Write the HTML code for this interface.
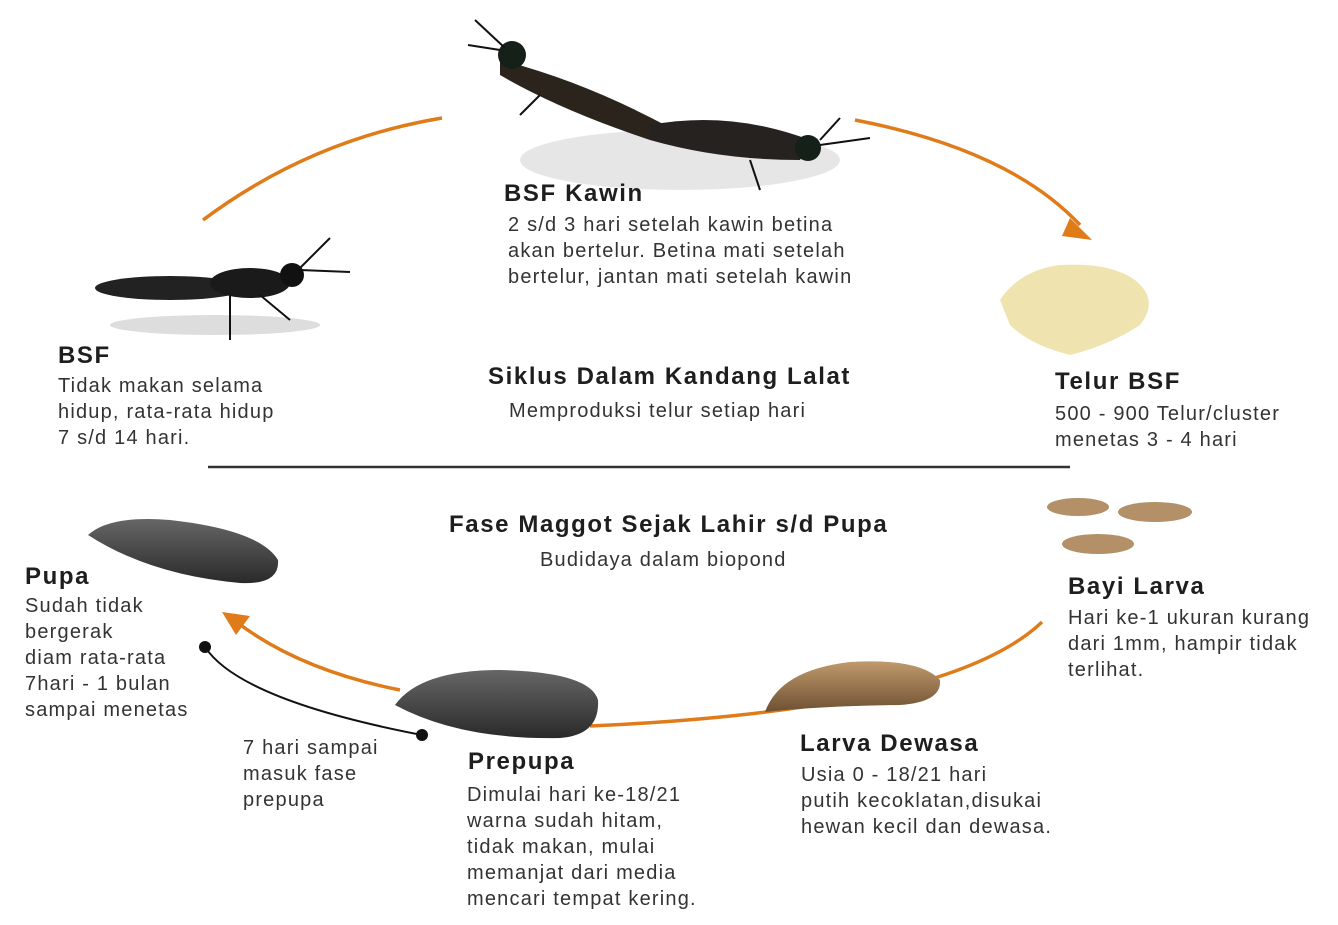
<!DOCTYPE html>
<html><head><meta charset="utf-8"><style>
body{margin:0;width:1338px;height:925px;background:#fff;position:relative;overflow:hidden;font-family:"Liberation Sans",sans-serif;color:#2a2a2a}
.t{position:absolute;font-weight:bold;font-size:24px;letter-spacing:1.6px;color:#1e1e1e}
.p{position:absolute;font-size:20px;letter-spacing:1.2px;line-height:26px;color:#333;white-space:nowrap}
svg{position:absolute;left:0;top:0}
</style></head><body>
<svg width="1338" height="925">
<defs>
<linearGradient id="lv" x1="0" y1="0" x2="0" y2="1"><stop offset="0" stop-color="#c09a6c"/><stop offset="1" stop-color="#6e5032"/></linearGradient>
<linearGradient id="dk" x1="0" y1="0" x2="0" y2="1"><stop offset="0" stop-color="#666"/><stop offset="1" stop-color="#2a2a2a"/></linearGradient></defs>
<g fill="none" stroke="#e07b1a" stroke-width="3.5">
<path d="M203,220 Q310,140 442,118"/>
<path d="M855,120 Q1010,150 1080,225"/>
<path d="M1042,622 Q950,710 590,726"/>
<path d="M400,690 Q300,670 238,623"/>
</g>
<path d="M1070,218 L1092,240 L1062,236z" fill="#e07b1a"/>
<path d="M222,612 L250,616 L236,635z" fill="#e07b1a"/>
<path d="M205,647 Q240,700 422,735" fill="none" stroke="#111" stroke-width="2"/>
<circle cx="205" cy="647" r="6" fill="#111"/><circle cx="422" cy="735" r="6" fill="#111"/>
<line x1="208" y1="467" x2="1070" y2="467" stroke="#333" stroke-width="2.5"/>
<ellipse cx="215" cy="325" rx="105" ry="10" fill="#ddd"/>
<ellipse cx="170" cy="288" rx="75" ry="12" fill="#222"/>
<ellipse cx="250" cy="283" rx="40" ry="15" fill="#1a1a1a"/>
<circle cx="292" cy="275" r="12" fill="#111"/>
<path d="M300,268 L330,238 M300,270 L350,272 M230,295 L230,340 M260,295 L290,320" stroke="#111" stroke-width="2"/>
<ellipse cx="680" cy="160" rx="160" ry="30" fill="#e6e6e6"/>
<path d="M500,60 Q580,80 665,125 L650,140 Q560,110 500,75z" fill="#2b241d"/>
<path d="M650,125 Q730,110 810,140 L800,160 Q720,160 650,140z" fill="#262220"/>
<circle cx="512" cy="55" r="14" fill="#152018"/><circle cx="808" cy="148" r="13" fill="#152018"/>
<path d="M505,48 L475,20 M500,50 L468,45 M820,145 L870,138 M820,140 L840,118 M540,95 L520,115 M750,160 L760,190" stroke="#111" stroke-width="2"/>
<path d="M1000,300 Q1020,270 1060,265 Q1110,262 1135,280 Q1160,300 1140,325 Q1110,345 1070,355 Q1030,345 1010,325z" fill="#efe3b0"/>
<ellipse cx="1078" cy="507" rx="31" ry="9" fill="#b39068"/>
<ellipse cx="1155" cy="512" rx="37" ry="10" fill="#b39068"/>
<ellipse cx="1098" cy="544" rx="36" ry="10" fill="#b39068"/>
<path d="M765,712 Q780,670 850,662 Q920,658 940,680 Q942,702 900,705 Q820,706 765,712z" fill="url(#lv)"/>
<path d="M395,705 Q420,670 500,670 Q590,672 598,700 Q600,735 560,738 Q460,740 395,705z" fill="url(#dk)"/>
<path d="M88,535 Q110,515 170,520 Q260,530 278,560 Q280,585 240,583 Q150,575 88,535z" fill="url(#dk)"/>
</svg>
<div class="t" style="left:504px;top:180px">BSF Kawin</div>
<div class="p" style="left:508px;top:212px">2 s/d 3 hari setelah kawin betina<br>akan bertelur. Betina mati setelah<br>bertelur, jantan mati setelah kawin</div>
<div class="t" style="left:58px;top:342px">BSF</div>
<div class="p" style="left:58px;top:373px">Tidak makan selama<br>hidup, rata-rata hidup<br>7 s/d 14 hari.</div>
<div class="t" style="left:488px;top:363px">Siklus Dalam Kandang Lalat</div>
<div class="p" style="left:509px;top:398px">Memproduksi telur setiap hari</div>
<div class="t" style="left:1055px;top:368px">Telur BSF</div>
<div class="p" style="left:1055px;top:401px">500 - 900 Telur/cluster<br>menetas 3 - 4 hari</div>
<div class="t" style="left:449px;top:511px">Fase Maggot Sejak Lahir s/d Pupa</div>
<div class="p" style="left:540px;top:547px">Budidaya dalam biopond</div>
<div class="t" style="left:25px;top:563px">Pupa</div>
<div class="p" style="left:25px;top:593px">Sudah tidak<br>bergerak<br>diam rata-rata<br>7hari - 1 bulan<br>sampai menetas</div>
<div class="t" style="left:1068px;top:573px">Bayi Larva</div>
<div class="p" style="left:1068px;top:605px">Hari ke-1 ukuran kurang<br>dari 1mm, hampir tidak<br>terlihat.</div>
<div class="p" style="left:243px;top:735px">7 hari sampai<br>masuk fase<br>prepupa</div>
<div class="t" style="left:800px;top:730px">Larva Dewasa</div>
<div class="p" style="left:801px;top:762px">Usia 0 - 18/21 hari<br>putih kecoklatan,disukai<br>hewan kecil dan dewasa.</div>
<div class="t" style="left:468px;top:748px">Prepupa</div>
<div class="p" style="left:467px;top:782px">Dimulai hari ke-18/21<br>warna sudah hitam,<br>tidak makan, mulai<br>memanjat dari media<br>mencari tempat kering.</div>
</body></html>
